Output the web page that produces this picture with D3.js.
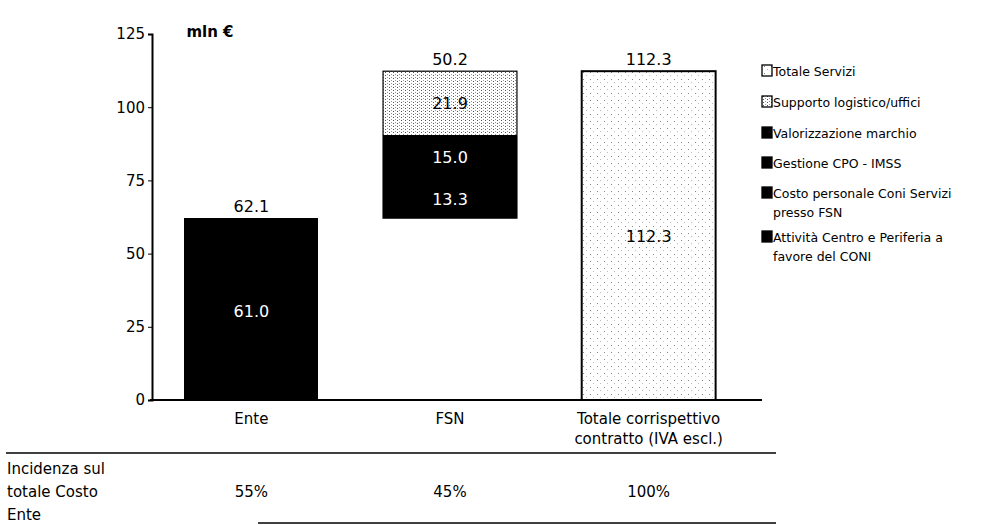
<!DOCTYPE html>
<html>
<head>
<meta charset="utf-8">
<script src="https://cdn.jsdelivr.net/npm/d3@7"></script>
<style>
  body { margin: 0; background: #fff; }
  text { font-family: "DejaVu Sans", Verdana, sans-serif; fill: #000; }
</style>
</head>
<body>
<div id="chart"></div>
<script>
// chart values
const categories = ["Ente", "FSN", "Totale corrispettivo contratto (IVA escl.)"];
const categoryLines = [["Ente"], ["FSN"], ["Totale corrispettivo", "contratto (IVA escl.)"]];
const seriesNames = ["Attività Centro e Periferia a favore del CONI", "Costo personale Coni Servizi presso FSN",
  "Gestione CPO - IMSS", "Valorizzazione marchio", "Supporto logistico/uffici", "Totale Servizi"];
const enteValues = [61.0, 0, 1.1, 0, 0, 0];
const fsnValues = [0, 13.3, 0, 15.0, 21.9, 0];
const totaleValues = [0, 0, 0, 0, 0, 112.3];
const totals = [62.1, 50.2, 112.3];
const incidenza = ["55%", "45%", "100%"];
const yTicks = [0, 25, 50, 75, 100, 125];

const legendOrder = ["Totale Servizi", "Supporto logistico/uffici", "Valorizzazione marchio",
  "Gestione CPO - IMSS", "Costo personale Coni Servizi presso FSN", "Attività Centro e Periferia a favore del CONI"];
const legendLines = [["Totale Servizi"], ["Supporto logistico/uffici"], ["Valorizzazione marchio"],
  ["Gestione CPO - IMSS"], ["Costo personale Coni Servizi", "presso FSN"], ["Attività Centro e Periferia a", "favore del CONI"]];

const width = 983, height = 525;
const svg = d3.select("#chart").append("svg").attr("width", width).attr("height", height);

// patterns for the dotted fills
const defs = svg.append("defs");
const p1 = defs.append("pattern").attr("id", "dense").attr("patternUnits", "userSpaceOnUse")
  .attr("width", 4).attr("height", 3);
p1.append("rect").attr("width", 4).attr("height", 3).attr("fill", "#fff");
p1.append("rect").attr("x", 1).attr("y", 0).attr("width", 1).attr("height", 1).attr("fill", "#555");
p1.append("rect").attr("x", 3).attr("y", 2).attr("width", 1).attr("height", 1).attr("fill", "#999");
const p2 = defs.append("pattern").attr("id", "sparse").attr("patternUnits", "userSpaceOnUse")
  .attr("width", 7).attr("height", 7);
p2.append("rect").attr("width", 7).attr("height", 7).attr("fill", "#fff");
p2.append("rect").attr("x", 2).attr("y", 2).attr("width", 1).attr("height", 1).attr("fill", "#888");
p2.append("rect").attr("x", 5).attr("y", 5).attr("width", 1).attr("height", 1).attr("fill", "#bbb");

const fills = {
  "Totale Servizi": "url(#sparse)",
  "Supporto logistico/uffici": "url(#dense)"
};
const fillOf = name => fills[name] || "#000";

const x = d3.scaleBand().domain(categories).range([152, 748]).paddingInner(0.326).paddingOuter(0.163);
const y = d3.scaleLinear().domain([0, 125]).range([400, 34]);

// stacked waterfall segments
const rows = [enteValues, fsnValues, totaleValues];
const segs = [];
rows.forEach((vals, ci) => {
  let base = ci === 1 ? d3.sum(enteValues) : 0;
  vals.forEach((v, si) => {
    if (v > 0) {
      segs.push({cat: categories[ci], name: seriesNames[si], y0: base, y1: base + v, v: v});
      base += v;
    }
  });
});

svg.selectAll("rect.seg").data(segs).enter().append("rect")
  .attr("class", "seg")
  .attr("x", d => x(d.cat))
  .attr("width", x.bandwidth())
  .attr("y", d => Math.round(y(d.y1)))
  .attr("height", d => Math.round(y(d.y0)) - Math.round(y(d.y1)))
  .attr("shape-rendering", "crispEdges")
  .attr("fill", d => fillOf(d.name));

// outlines for the total bar and the FSN bar
[1, 2].forEach(ci => {
  const top = ci === 1 ? d3.sum(enteValues) + totals[1] : totals[2];
  const bot = ci === 1 ? d3.sum(enteValues) : 0;
  svg.append("rect").attr("x", x(categories[ci])).attr("width", x.bandwidth())
    .attr("y", y(top)).attr("height", y(bot) - y(top))
    .attr("fill", "none").attr("stroke", "#000").attr("stroke-width", ci === 2 ? 2 : 1.2);
});

// labels inside segments
svg.selectAll("text.seg").data(segs.filter(d => d.v >= 5)).enter().append("text")
  .attr("class", "seg")
  .attr("x", d => x(d.cat) + x.bandwidth() / 2)
  .attr("y", d => y((d.y0 + d.y1) / 2) + 6)
  .attr("text-anchor", "middle")
  .style("font-size", "16px")
  .style("fill", d => fillOf(d.name) === "#000" ? "#fff" : "#000")
  .text(d => d.v.toFixed(1));

// totals above bars
const tops = [totals[0], d3.sum(enteValues) + totals[1], totals[2]];
svg.selectAll("text.tot").data(categories).enter().append("text")
  .attr("class", "tot")
  .attr("x", d => x(d) + x.bandwidth() / 2)
  .attr("y", (d, i) => y(tops[i]) - 6)
  .attr("text-anchor", "middle")
  .style("font-size", "16px")
  .text((d, i) => totals[i].toFixed(1));

// y axis
const yAxis = svg.append("g").attr("transform", "translate(152,0)")
  .call(d3.axisLeft(y).tickValues(yTicks).tickSize(4).tickPadding(3));
yAxis.select(".domain").attr("stroke-width", 2);
yAxis.selectAll("text").style("font-size", "15px").style("font-family", "DejaVu Sans");

// x axis
const xAxis = svg.append("g").attr("transform", "translate(0,400)")
  .call(d3.axisBottom(x).tickSize(0).tickFormat(""));
xAxis.select(".domain").attr("stroke-width", 2).attr("d", "M150,0H762");
categories.forEach((c, i) => {
  const t = svg.append("text").attr("x", x(c) + x.bandwidth() / 2).attr("y", 424)
    .attr("text-anchor", "middle").style("font-size", "15px");
  categoryLines[i].forEach((line, li) => {
    t.append("tspan").attr("x", x(c) + x.bandwidth() / 2).attr("dy", li === 0 ? 0 : 20).text(line);
  });
});

svg.append("text").attr("x", 210).attr("y", 37).attr("text-anchor", "middle")
  .style("font-size", "15px").style("font-weight", "bold").text("mln €");

// table below the chart
svg.append("line").attr("x1", 6).attr("x2", 776).attr("y1", 453).attr("y2", 453)
  .attr("stroke", "#000").attr("stroke-width", 1.5);
svg.append("line").attr("x1", 258).attr("x2", 776).attr("y1", 523).attr("y2", 523)
  .attr("stroke", "#000").attr("stroke-width", 1.5);
const rowLabel = svg.append("text").attr("x", 7).attr("y", 474).style("font-size", "15px");
["Incidenza sul", "totale Costo", "Ente"].forEach((line, li) => {
  rowLabel.append("tspan").attr("x", 7).attr("dy", li === 0 ? 0 : 23).text(line);
});
svg.selectAll("text.inc").data(categories).enter().append("text")
  .attr("class", "inc")
  .attr("x", d => x(d) + x.bandwidth() / 2)
  .attr("y", 497)
  .attr("text-anchor", "middle")
  .style("font-size", "15px")
  .text((d, i) => incidenza[i]);

// legend
const lg = svg.selectAll("g.leg").data(legendOrder).enter().append("g")
  .attr("class", "leg")
  .attr("transform", (d, i) => `translate(762,${[71, 102, 133, 163, 193, 237][i]})`);
lg.append("rect").attr("x", 0).attr("y", -6).attr("width", 10).attr("height", 11)
  .attr("fill", d => fillOf(d))
  .attr("stroke", "#000").attr("stroke-width", 1.3);
lg.append("text").attr("x", 11).attr("y", 4.5).style("font-size", "12.5px")
  .each(function(d, i) {
    const t = d3.select(this);
    legendLines[i].forEach((line, li) => {
      t.append("tspan").attr("x", 11).attr("dy", li === 0 ? 0 : 19).text(line);
    });
  });
</script>
</body>
</html>
